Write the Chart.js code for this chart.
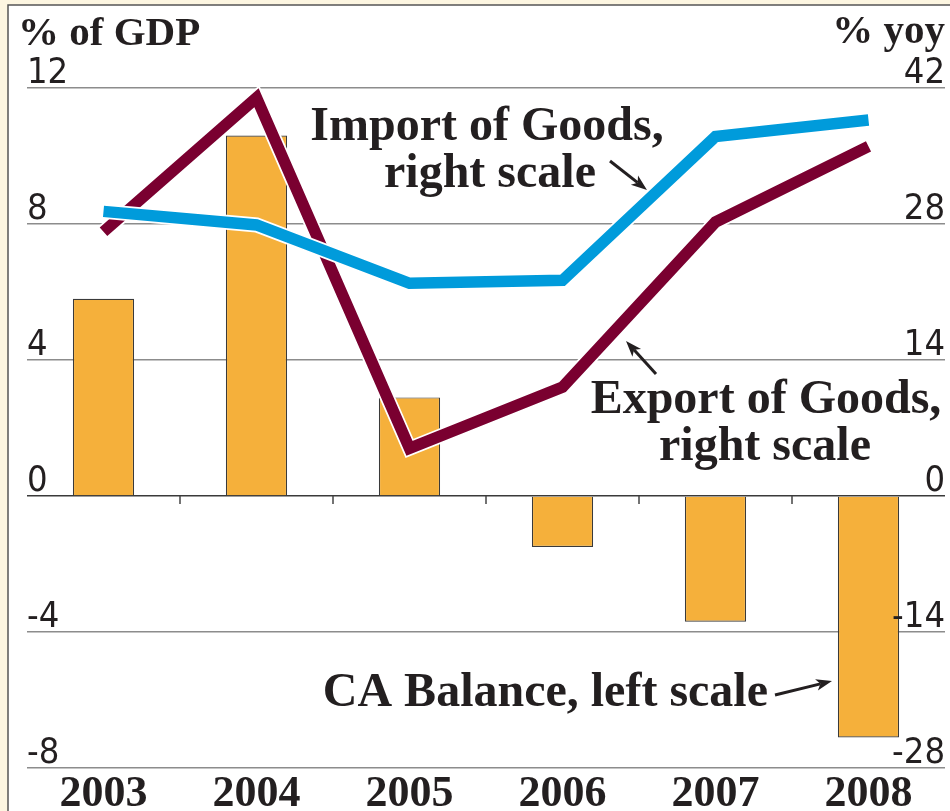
<!DOCTYPE html>
<html>
<head>
<meta charset="utf-8">
<script src="https://cdn.jsdelivr.net/npm/chart.js@4"></script>
<style>
  html, body { margin: 0; padding: 0; background: #fdf6e1; }
  canvas { display: block; }
</style>
</head>
<body>
<canvas id="chart" width="950" height="811"></canvas>
<script>
const years = ["2003", "2004", "2005", "2006", "2007", "2008"];
// CA balance, % of GDP (left scale)
const caBalance = [5.8, 10.6, 2.9, -1.5, -3.7, -7.1];
// % yoy (right scale)
const exportGoods = [27.2, 41.0, 4.9, 11.2, 28.2, 36.0];
const importGoods = [29.3, 27.9, 21.9, 22.2, 37.0, 38.7];
const leftTicks = [-8, -4, 0, 4, 8, 12];
const rightTicks = [-28, -14, 0, 14, 28, 42];

const ink = "#231f20";
const serif = "'Liberation Serif', 'Times New Roman', serif";
const narrow = "'Liberation Sans Narrow', 'DejaVu Sans Condensed', sans-serif";

function arrow(ctx, x1, y1, x2, y2) {
  const a = Math.atan2(y2 - y1, x2 - x1);
  const head = 17;
  ctx.save();
  ctx.strokeStyle = ink;
  ctx.fillStyle = ink;
  ctx.lineWidth = 3;
  ctx.beginPath();
  ctx.moveTo(x1, y1);
  ctx.lineTo(x2 - Math.cos(a) * head * 0.7, y2 - Math.sin(a) * head * 0.7);
  ctx.stroke();
  ctx.beginPath();
  ctx.moveTo(x2, y2);
  ctx.lineTo(x2 - head * Math.cos(a - 0.35), y2 - head * Math.sin(a - 0.35));
  ctx.lineTo(x2 - head * 0.7 * Math.cos(a), y2 - head * 0.7 * Math.sin(a));
  ctx.lineTo(x2 - head * Math.cos(a + 0.35), y2 - head * Math.sin(a + 0.35));
  ctx.closePath();
  ctx.fill();
  ctx.restore();
}

const decor = {
  id: "decor",
  beforeDraw(chart) {
    const ctx = chart.ctx;
    ctx.save();
    ctx.fillStyle = "#fdf6e1";
    ctx.fillRect(0, 0, chart.width, chart.height);
    ctx.fillStyle = "#ffffff";
    ctx.fillRect(8, 5, chart.width - 8, chart.height - 5);
    ctx.strokeStyle = "#555";
    ctx.lineWidth = 1.5;
    ctx.beginPath();
    ctx.moveTo(8, chart.height);
    ctx.lineTo(8, 5);
    ctx.lineTo(chart.width, 5);
    ctx.stroke();
    ctx.restore();
  },
  beforeDatasetDraw(chart, args) {
    const meta = args.meta;
    if (meta.type !== "line") return;
    const ctx = chart.ctx;
    ctx.save();
    ctx.strokeStyle = "#ffffff";
    ctx.lineWidth = 15;
    ctx.lineJoin = "miter";
    ctx.lineCap = "butt";
    ctx.beginPath();
    meta.data.forEach((p, i) => (i ? ctx.lineTo(p.x, p.y) : ctx.moveTo(p.x, p.y)));
    ctx.stroke();
    ctx.restore();
  },
  afterDraw(chart) {
    const ctx = chart.ctx;
    const area = chart.chartArea;
    const x = chart.scales.x;
    const yl = chart.scales.y;
    const yr = chart.scales.y2;
    ctx.save();

    // small ticks on the zero line between years
    const zero = yl.getPixelForValue(0);
    ctx.strokeStyle = "#444";
    ctx.lineWidth = 1.5;
    for (let i = 0; i < years.length - 1; i++) {
      const px = (x.getPixelForValue(i) + x.getPixelForValue(i + 1)) / 2;
      ctx.beginPath();
      ctx.moveTo(px, zero);
      ctx.lineTo(px, zero + 8);
      ctx.stroke();
    }

    // axis numbers sit above their grid lines
    ctx.fillStyle = ink;
    ctx.font = "36px " + narrow;
    ctx.textBaseline = "alphabetic";
    ctx.textAlign = "left";
    leftTicks.forEach(v => ctx.fillText(String(v), area.left, yl.getPixelForValue(v) - 5));
    ctx.textAlign = "right";
    rightTicks.forEach(v => ctx.fillText(String(v), area.right, yr.getPixelForValue(v) - 5));

    // units
    ctx.font = "bold 41px " + serif;
    ctx.textAlign = "left";
    ctx.fillText("% of GDP", 18, 45);
    ctx.textAlign = "right";
    ctx.fillText("% yoy", area.right, 43);

    // years
    ctx.font = "bold 44px " + serif;
    ctx.textAlign = "center";
    years.forEach((y, i) => ctx.fillText(y, x.getPixelForValue(i), 806));

    // series notes
    ctx.font = "bold 48px " + serif;
    ctx.fillText("Import of Goods,", 487, 140);
    ctx.fillText("right scale", 490, 187);
    arrow(ctx, 610, 161, 647, 190);

    ctx.fillText("Export of Goods,", 766, 413);
    ctx.fillText("right scale", 765, 460);
    arrow(ctx, 656, 374, 626, 341);

    ctx.textAlign = "right";
    ctx.fillText("CA Balance, left scale", 768, 706);
    arrow(ctx, 775, 695, 832, 681);

    ctx.restore();
  }
};

new Chart(document.getElementById("chart"), {
  data: {
    labels: years,
    datasets: [
      {
        type: "bar",
        label: "CA Balance, left scale",
        data: caBalance,
        yAxisID: "y",
        backgroundColor: "#f5b03b",
        borderColor: "#3a3a3a",
        borderWidth: 1.2,
        categoryPercentage: 1,
        barPercentage: 0.4,
        order: 3
      },
      {
        type: "line",
        label: "Export of Goods, right scale",
        data: exportGoods,
        yAxisID: "y2",
        borderColor: "#7a0030",
        borderWidth: 11.5,
        borderJoinStyle: "miter",
        borderCapStyle: "butt",
        pointRadius: 0,
        tension: 0,
        order: 2
      },
      {
        type: "line",
        label: "Import of Goods, right scale",
        data: importGoods,
        yAxisID: "y2",
        borderColor: "#009bdb",
        borderWidth: 11.5,
        borderJoinStyle: "miter",
        borderCapStyle: "butt",
        pointRadius: 0,
        tension: 0,
        order: 1
      }
    ]
  },
  options: {
    responsive: false,
    animation: false,
    devicePixelRatio: 1,
    layout: { padding: { left: 27, right: 5, top: 88, bottom: 43 } },
    plugins: { legend: { display: false }, tooltip: { enabled: false } },
    scales: {
      x: {
        offset: true,
        grid: { display: false },
        border: { display: false },
        ticks: { display: false },
        afterFit: s => { s.height = 0; }
      },
      y: {
        position: "left",
        min: -8,
        max: 12,
        afterBuildTicks: s => { s.ticks = leftTicks.map(v => ({ value: v })); },
        grid: {
          drawTicks: false,
          color: c => (c.tick && c.tick.value === 0 ? "#3a3a3a" : "#8c8c8c"),
          lineWidth: 1.5
        },
        border: { display: false },
        ticks: { display: false },
        afterFit: s => { s.width = 0; }
      },
      y2: {
        position: "right",
        min: -28,
        max: 42,
        afterBuildTicks: s => { s.ticks = rightTicks.map(v => ({ value: v })); },
        grid: { display: false },
        border: { display: false },
        ticks: { display: false },
        afterFit: s => { s.width = 0; }
      }
    }
  },
  plugins: [decor]
});
</script>
</body>
</html>
